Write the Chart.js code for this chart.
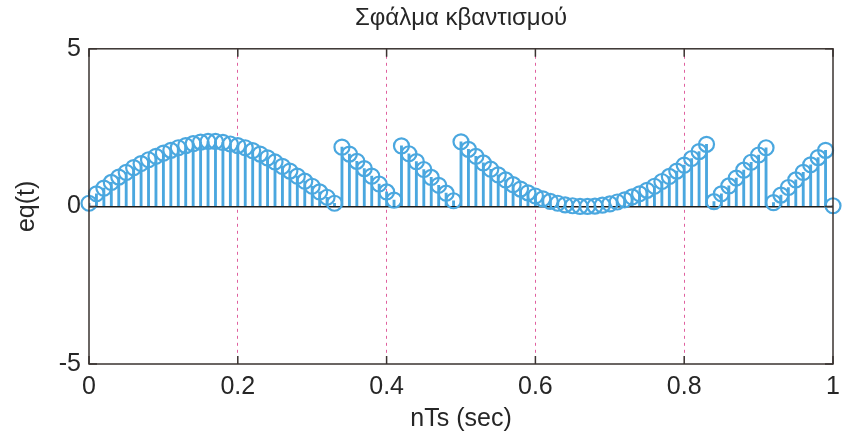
<!DOCTYPE html>
<html>
<head>
<meta charset="utf-8">
<script src="https://cdn.jsdelivr.net/npm/chart.js@4"></script>
<style>
  body { margin: 0; background: #fff; }
  canvas { display: block; }
</style>
</head>
<body>
<canvas id="quant" width="849" height="439"></canvas>
<script>
// quantization error samples, n = 0..100
const eq = [
  0.10, 0.40, 0.58, 0.76, 0.93, 1.08, 1.23, 1.36, 1.48, 1.59,
  1.69, 1.78, 1.86, 1.93, 1.99, 2.04, 2.06, 2.06, 2.03, 1.98,
  1.93, 1.86, 1.77, 1.66, 1.54, 1.41, 1.27, 1.12, 0.96, 0.80,
  0.64, 0.46, 0.29, 0.10, 1.88, 1.66, 1.43, 1.20, 0.96, 0.71,
  0.46, 0.20, 1.92, 1.67, 1.42, 1.17, 0.92, 0.67, 0.42, 0.18,
  2.05, 1.81, 1.59, 1.38, 1.18, 1.00, 0.84, 0.69, 0.55, 0.43,
  0.33, 0.24, 0.16, 0.10, 0.05, 0.02, 0.00, 0.00, 0.01, 0.04,
  0.08, 0.14, 0.21, 0.30, 0.40, 0.51, 0.64, 0.79, 0.95, 1.12,
  1.31, 1.52, 1.74, 1.97, 0.15, 0.40, 0.65, 0.90, 1.15, 1.40,
  1.63, 1.86, 0.12, 0.36, 0.60, 0.84, 1.08, 1.32, 1.55, 1.78,
  0.02
];
const Ts = 0.01;
const xTicks = [0, 0.2, 0.4, 0.6, 0.8, 1];
const yTicks = [-5, 0, 5];

const points = eq.map((v, n) => ({ x: n * Ts, y: v }));

const stemBlue = '#4aa7df';
const boxColor = '#3a3330';
const textColor = '#262626';
const fontFamily = '"Liberation Sans", Arial, Helvetica, sans-serif';

// matlab style closed box with inward ticks
const axesBox = {
  id: 'axesBox',
  afterDraw(chart) {
    const { ctx, chartArea: a, scales } = chart;
    ctx.save();
    ctx.strokeStyle = boxColor;
    ctx.lineWidth = 1.5;
    ctx.strokeRect(a.left, a.top, a.right - a.left, a.bottom - a.top);
    ctx.beginPath();
    xTicks.forEach(t => {
      const px = scales.x.getPixelForValue(t);
      ctx.moveTo(px, a.bottom); ctx.lineTo(px, a.bottom - 8);
      ctx.moveTo(px, a.top); ctx.lineTo(px, a.top + 8);
    });
    yTicks.forEach(t => {
      const py = scales.y.getPixelForValue(t);
      ctx.moveTo(a.left, py); ctx.lineTo(a.left + 8, py);
      ctx.moveTo(a.right, py); ctx.lineTo(a.right - 8, py);
    });
    ctx.stroke();
    ctx.restore();
  }
};

const ctx = document.getElementById('quant').getContext('2d');
const chart = new Chart(ctx, {
  type: 'bar',
  data: {
    datasets: [{
      type: 'scatter',
      data: points,
      showLine: false,
      pointStyle: 'circle',
      pointRadius: 7.5,
      pointBorderWidth: 2.2,
      pointBorderColor: stemBlue,
      pointBackgroundColor: 'rgba(0,0,0,0)',
      clip: false,
      order: 0
    }, {
      type: 'bar',
      data: points,
      backgroundColor: stemBlue,
      barThickness: 2.2,
      order: 1
    }]
  },
  plugins: [axesBox],
  options: {
    responsive: false,
    animation: false,
    devicePixelRatio: 1,
    layout: { padding: { left: 0, right: 16, top: 0, bottom: 0 } },
    plugins: {
      legend: { display: false },
      tooltip: { enabled: false },
      title: {
        display: true,
        fullSize: false,
        text: 'Σφάλμα κβαντισμού',
        color: textColor,
        font: { family: fontFamily, size: 24, weight: 'normal' },
        padding: { top: 4, bottom: 16 }
      }
    },
    scales: {
      x: {
        type: 'linear',
        min: 0,
        max: 1,
        offset: false,
        afterBuildTicks: s => { s.ticks = xTicks.map(v => ({ value: v })); },
        afterFit: s => { s.height = 75; },
        ticks: {
          color: textColor,
          font: { family: fontFamily, size: 25 },
          padding: 8,
          maxRotation: 0,
          callback: v => String(+v.toFixed(1))
        },
        grid: {
          offset: false,
          drawTicks: false,
          lineWidth: 1,
          color: c => (c.tick && (c.tick.value === 0 || c.tick.value === 1)) ? 'rgba(0,0,0,0)' : '#e0609f'
        },
        border: { display: false, dash: [3, 4] },
        title: {
          display: true,
          text: 'nTs (sec)',
          color: textColor,
          font: { family: fontFamily, size: 25 },
          padding: { top: 0, bottom: 5 }
        }
      },
      y: {
        min: -5,
        max: 5,
        afterBuildTicks: s => { s.ticks = yTicks.map(v => ({ value: v })); },
        afterFit: s => { s.width = 89; },
        ticks: {
          color: textColor,
          font: { family: fontFamily, size: 25 },
          padding: 8
        },
        grid: {
          drawTicks: false,
          lineWidth: 1.5,
          color: c => (c.tick && c.tick.value === 0) ? '#1a1a1a' : 'rgba(0,0,0,0)'
        },
        border: { display: false },
        title: {
          display: true,
          text: 'eq(t)',
          color: textColor,
          font: { family: fontFamily, size: 25 },
          padding: { top: 12, bottom: 0 }
        }
      }
    }
  }
});
</script>
</body>
</html>
